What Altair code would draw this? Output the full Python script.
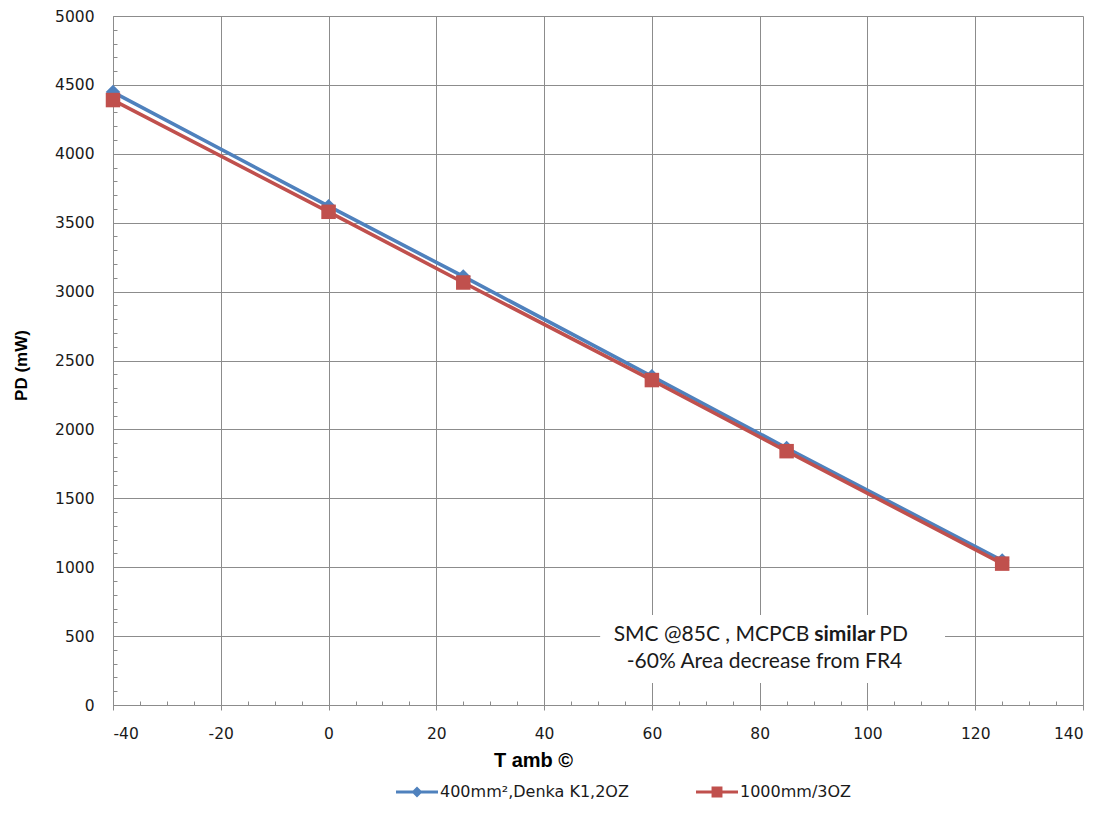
import altair as alt
import pandas as pd

# ---- data ----
temps = [-40, 0, 25, 60, 85, 125]
pd_denka = [4448, 3620, 3110, 2385, 1865, 1048]
pd_mcpcb = [4390, 3579, 3066, 2358, 1842, 1026]
series_names = ["400mm²,Denka K1,2OZ", "1000mm/3OZ"]
series_colors = ["#4F81BD", "#C0504D"]

x_major = [-40, -20, 0, 20, 40, 60, 80, 100, 120, 140]
y_major = [0, 500, 1000, 1500, 2000, 2500, 3000, 3500, 4000, 4500, 5000]
x_minor = list(range(-40, 141, 5))
y_minor = list(range(0, 5001, 100))

note_line1a = "SMC @85C , MCPCB"
note_line1b = "similar"
note_line1c = "PD"
note_line2 = "-60% Area decrease from FR4"

legend_paths = [
    "M-1,-0.075H1V0.075H-1Z M0,-0.26L0.26,0L0,0.26L-0.26,0Z",
    "M-1,-0.075H1V0.075H-1Z M-0.26,-0.26H0.26V0.26H-0.26Z",
]

rows = []
for name, vals in zip(series_names, [pd_denka, pd_mcpcb]):
    for t, v in zip(temps, vals):
        rows.append({"T": t, "PD": v, "series": name})
df = pd.DataFrame(rows)

GRID = "#8C8C8C"
LABEL_FONT = "DejaVu Sans"
TITLE_FONT = "Liberation Sans"
NOTE_FONT = "Lato"

xscale = alt.Scale(domain=[-40, 140], nice=False, zero=False)
yscale = alt.Scale(domain=[0, 5000], nice=False, zero=False)

main_x_axis = alt.Axis(
    values=x_major, title="T amb ©", grid=True, gridColor=GRID, gridWidth=1,
    domainColor=GRID, tickColor=GRID, tickSize=5, labelPadding=16,
    labelExpr="'' + datum.value",
    labelFont=LABEL_FONT, labelFontSize=15.5, labelColor="#1a1a1a",
    titleFont=TITLE_FONT, titleFontSize=20, titleFontWeight="bold", titleColor="#000",
    titleX=420, titleY=55, titleBaseline="middle", titleAlign="center",
)
main_y_axis = alt.Axis(
    values=y_major, title="PD (mW)", grid=True, gridColor=GRID, gridWidth=1,
    domainColor=GRID, tickSize=0, labelPadding=19,
    labelExpr="'' + datum.value",
    labelFont=LABEL_FONT, labelFontSize=15.5, labelColor="#1a1a1a",
    titleFont=TITLE_FONT, titleFontSize=17, titleFontWeight="bold", titleColor="#000",
    titleX=-92, titleY=349, titleBaseline="middle", titleAlign="center", titleAngle=-90,
)
minor_x_axis = alt.Axis(
    orient="top", offset=-689, values=x_minor, labels=False, domain=False, grid=False,
    tickColor=GRID, tickSize=4, title=None,
)
minor_y_axis = alt.Axis(
    orient="right", offset=-970, values=y_minor, labels=False, domain=False, grid=False,
    tickColor=GRID, tickSize=4, title=None,
)

base = alt.Chart(df)

axes_layer = base.mark_point(opacity=0).encode(
    x=alt.X("T:Q", scale=xscale, axis=main_x_axis),
    y=alt.Y("PD:Q", scale=yscale, axis=main_y_axis),
)
minor_layer = base.mark_point(opacity=0).encode(
    x=alt.X("T:Q", scale=xscale, axis=minor_x_axis),
    y=alt.Y("PD:Q", scale=yscale, axis=minor_y_axis),
)

series_layers = []
shapes = ["diamond", "square"]
for name, col, shp in zip(series_names, series_colors, shapes):
    sub = base.transform_filter(alt.datum.series == name)
    series_layers.append(
        sub.mark_line(color=col, strokeWidth=3.6).encode(
            x=alt.X("T:Q", scale=xscale, axis=None),
            y=alt.Y("PD:Q", scale=yscale, axis=None),
        )
    )
    series_layers.append(
        sub.mark_point(shape=shp, filled=True, color=col, size=210, opacity=1).encode(
            x=alt.X("T:Q", scale=xscale, axis=None),
            y=alt.Y("PD:Q", scale=yscale, axis=None),
        )
    )

legend_layer = base.mark_point(filled=True, opacity=0).encode(
    x=alt.X("T:Q", scale=xscale, axis=None),
    y=alt.Y("PD:Q", scale=yscale, axis=None),
    fill=alt.Fill("series:N", scale=alt.Scale(domain=series_names, range=series_colors),
                  legend=alt.Legend(title=None)),
    shape=alt.Shape("series:N", scale=alt.Scale(domain=series_names, range=legend_paths),
                    legend=alt.Legend(title=None)),
)

box_df = pd.DataFrame([{"x": 50.4, "x2": 114.4, "y": 160, "y2": 653}])
box = alt.Chart(box_df).mark_rect(fill="white").encode(
    x=alt.X("x:Q", scale=xscale, axis=None), x2="x2:Q",
    y=alt.Y("y:Q", scale=yscale, axis=None), y2="y2:Q",
)

notes_df = pd.DataFrame([
    {"x": 89.2, "y": 508, "text": note_line1a, "kind": "a"},
    {"x": 95.8, "y": 508, "text": note_line1b, "kind": "b"},
    {"x": 102.2, "y": 508, "text": note_line1c, "kind": "c"},
    {"x": 80.9, "y": 312, "text": note_line2, "kind": "d"},
])
note_layers = []
for kind, align, weight in [("a", "right", "normal"), ("b", "center", "bold"),
                            ("c", "left", "normal"), ("d", "center", "normal")]:
    note_layers.append(
        alt.Chart(notes_df).transform_filter(alt.datum.kind == kind).mark_text(
            align=align, baseline="middle", font=NOTE_FONT, fontSize=21,
            fontWeight=weight, color="#1a1a1a",
        ).encode(
            x=alt.X("x:Q", scale=xscale, axis=None),
            y=alt.Y("y:Q", scale=yscale, axis=None),
            text="text:N",
        )
    )

chart = alt.layer(
    axes_layer, minor_layer, *series_layers, legend_layer, box, *note_layers
).resolve_axis(x="independent", y="independent").properties(
    width=970, height=689,
    autosize=alt.AutoSizeParams(type="none"),
    padding={"left": 105, "top": 8, "right": 16, "bottom": 100},
).configure_view(stroke=None).configure_legend(
    orient="none", legendX=283, legendY=755, direction="horizontal", columns=2,
    symbolSize=1764, symbolOpacity=1, symbolStrokeWidth=0, labelOffset=2,
    labelLimit=0,
    labelFont=LABEL_FONT, labelFontSize=16, labelColor="#1a1a1a", columnPadding=67,
)

chart.save("out.html", embed_options={"renderer": "svg", "actions": False})
